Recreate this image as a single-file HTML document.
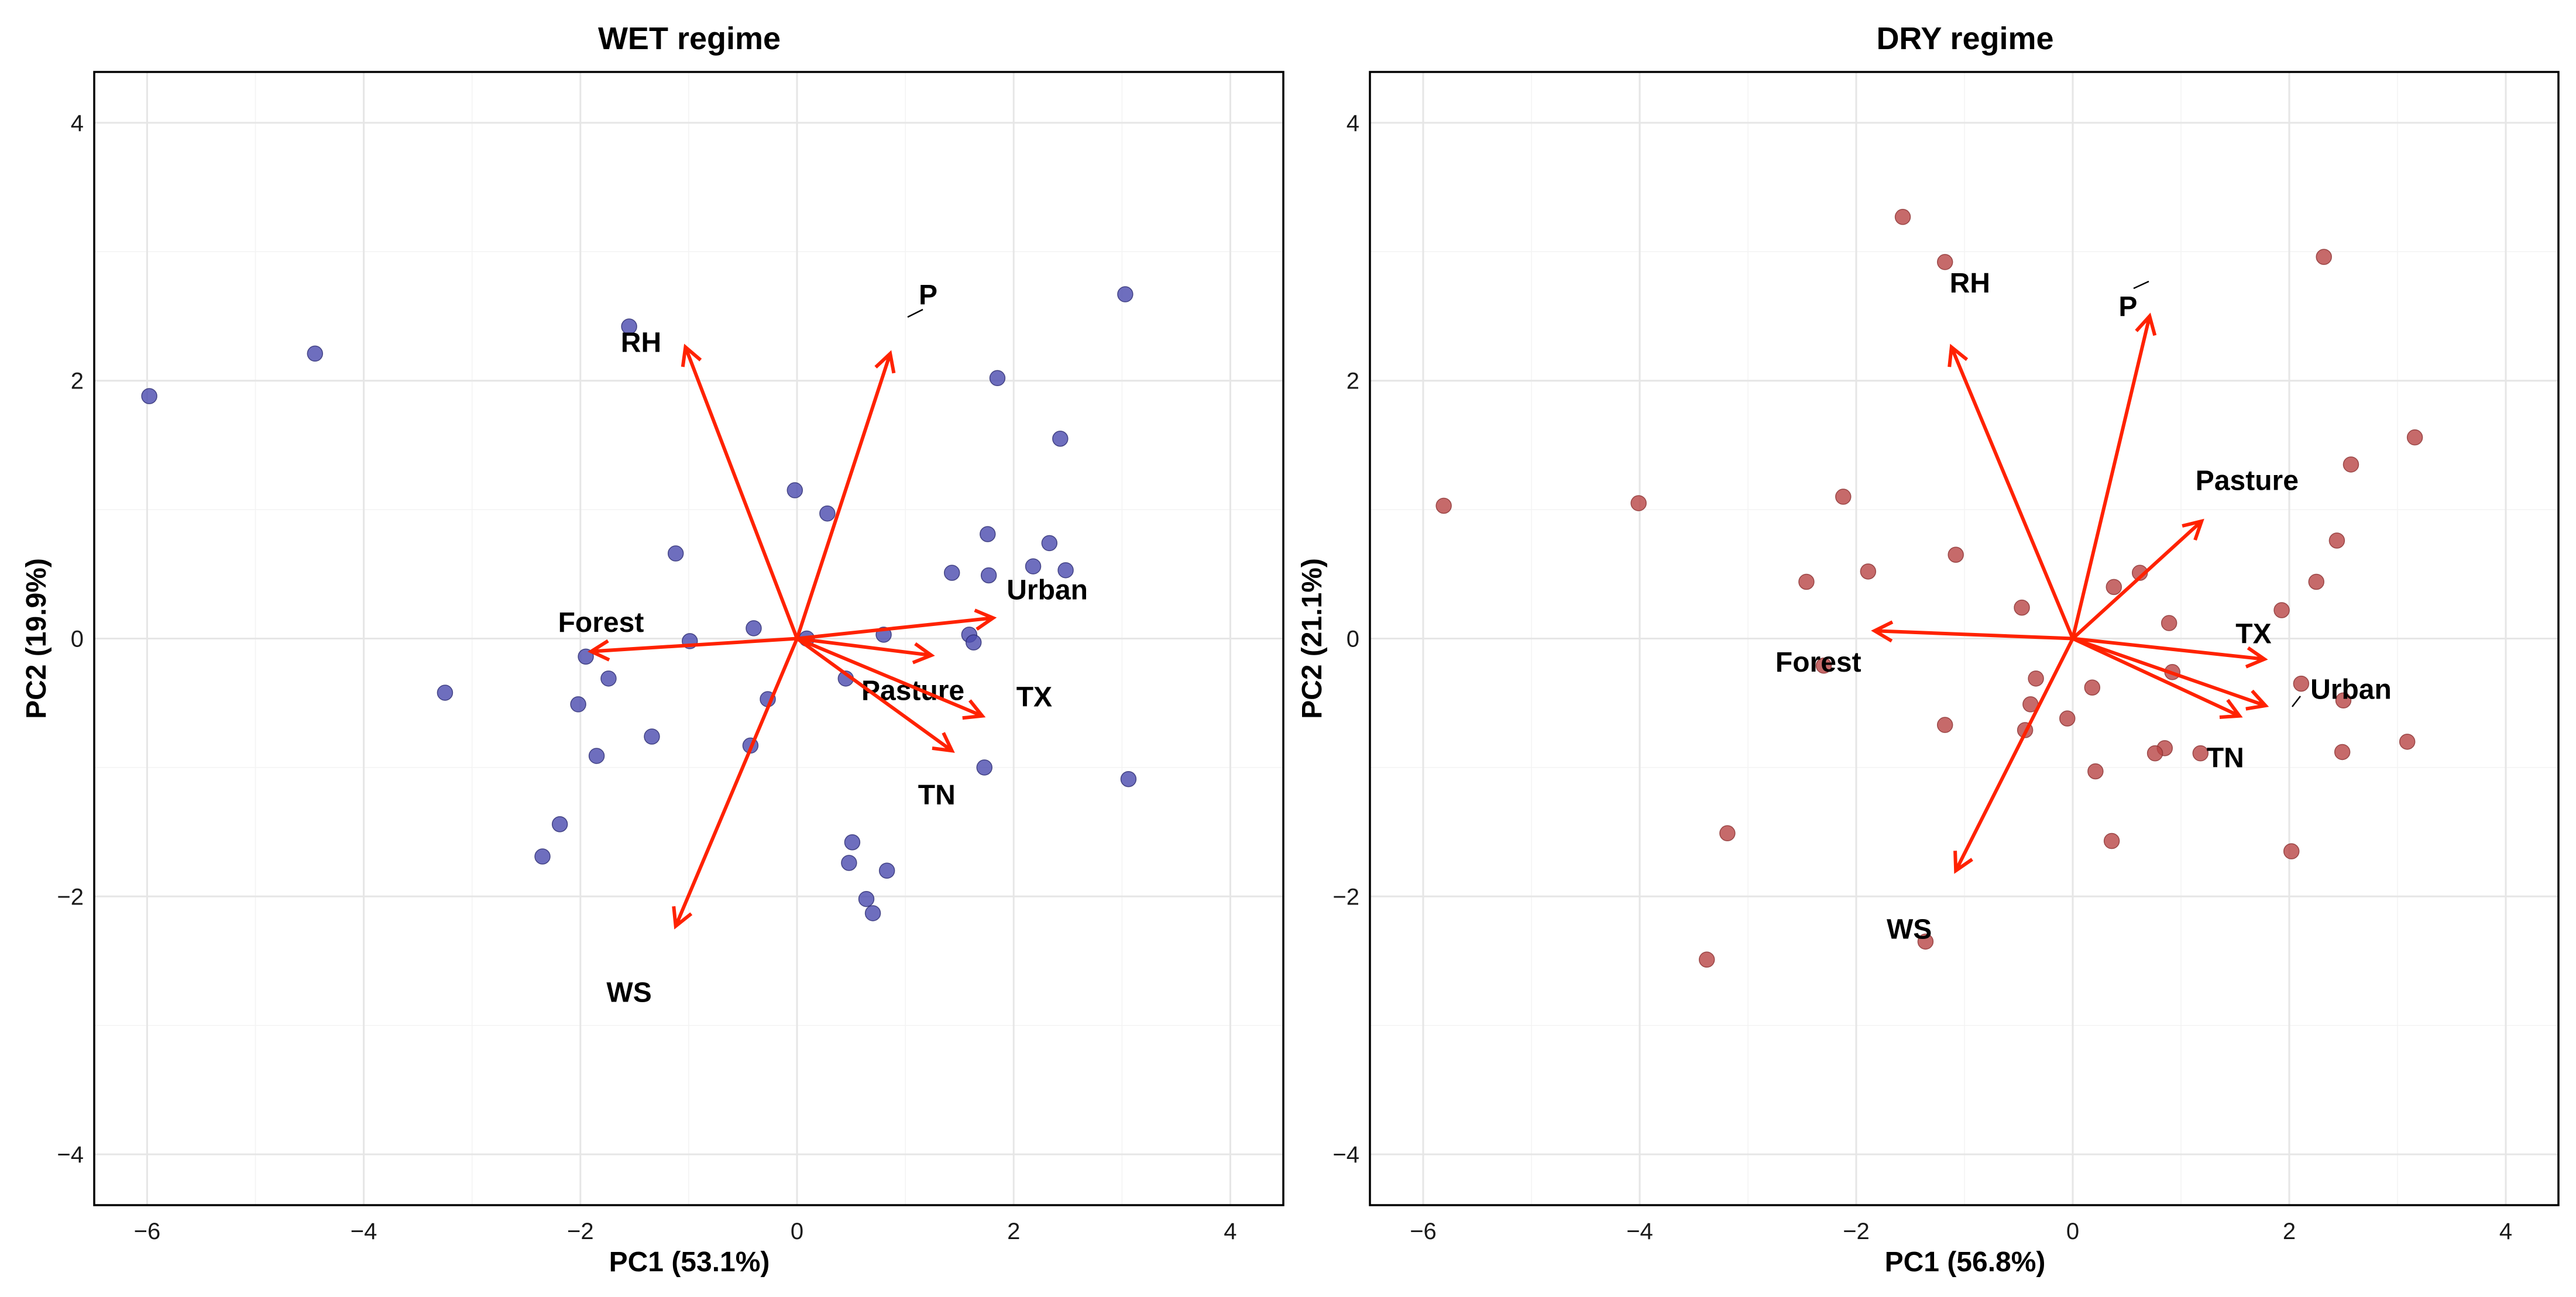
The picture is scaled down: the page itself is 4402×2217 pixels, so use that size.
<!DOCTYPE html>
<html><head><meta charset="utf-8">
<style>
html,body{margin:0;padding:0;background:#fff;}
svg{display:block;font-family:"Liberation Sans",Arial,sans-serif;}
</style></head>
<body>
<svg id="chart" width="4402" height="2217" viewBox="0 0 4402 2217" xmlns="http://www.w3.org/2000/svg"></svg>
<script>
// Shared ticks
const xTicks = [-6,-4,-2,0,2,4];
const yTicks = [-4,-2,0,2,4];
const xTickLabels = ["\u22126","\u22124","\u22122","0","2","4"];
const yTickLabels = ["\u22124","\u22122","0","2","4"];

// WET regime data
const wetX = [-5.98,-4.45,-3.25,-1.55,-1.12,-0.99,-1.95,-1.74,-2.02,-1.85,-1.34,-2.19,-2.35,-0.40,-0.27,-0.43,-0.02,0.28,0.09,0.45,0.80,0.51,0.48,0.83,0.64,0.70,1.43,1.76,1.77,1.59,1.63,1.73,1.85,2.43,2.33,2.18,2.48,3.03,3.06];
const wetY = [1.88,2.21,-0.42,2.42,0.66,-0.02,-0.14,-0.31,-0.51,-0.91,-0.76,-1.44,-1.69,0.08,-0.47,-0.83,1.15,0.97,0,-0.31,0.03,-1.58,-1.74,-1.80,-2.02,-2.13,0.51,0.81,0.49,0.03,-0.03,-1.00,2.02,1.55,0.74,0.56,0.53,2.67,-1.09];
const wetVars = ["RH","P","Forest","Urban","Pasture","TX","TN","WS"];
const wetArrowX = [-1.03,0.86,-1.90,1.81,1.24,1.71,1.43,-1.12];
const wetArrowY = [2.26,2.21,-0.10,0.16,-0.13,-0.60,-0.87,-2.23];
const wetLabelX = [-1.44,1.21,-1.81,2.31,1.07,2.19,1.29,-1.55];
const wetLabelY = [2.30,2.67,0.13,0.38,-0.40,-0.45,-1.21,-2.74];

// DRY regime data
const dryX = [-5.81,-4.01,-2.12,-2.46,-1.89,-2.30,-3.19,-3.38,-1.57,-1.18,-1.08,-1.18,-1.36,-0.47,-0.34,-0.39,-0.44,-0.05,0.18,0.21,0.36,0.38,0.62,0.89,0.92,0.85,0.76,1.18,1.93,2.11,2.25,2.44,2.57,2.50,2.49,2.32,3.16,3.09,2.02];
const dryY = [1.03,1.05,1.10,0.44,0.52,-0.21,-1.51,-2.49,3.27,2.92,0.65,-0.67,-2.35,0.24,-0.31,-0.51,-0.71,-0.62,-0.38,-1.03,-1.57,0.40,0.51,0.12,-0.26,-0.85,-0.89,-0.89,0.22,-0.35,0.44,0.76,1.35,-0.48,-0.88,2.96,1.56,-0.80,-1.65];
const dryVars = ["RH","P","Pasture","Forest","TX","Urban","TN","WS"];
const dryArrowX = [-1.12,0.71,1.19,-1.83,1.77,1.78,1.54,-1.08];
const dryArrowY = [2.26,2.50,0.91,0.06,-0.16,-0.52,-0.60,-1.80];
const dryLabelX = [-0.95,0.51,1.61,-2.35,1.67,2.57,1.41,-1.51];
const dryLabelY = [2.76,2.58,1.23,-0.18,0.04,-0.39,-0.92,-2.25];

const NS = "http://www.w3.org/2000/svg";
const svg = document.getElementById("chart");
function mk(tag, attrs, parent){
  const e = document.createElementNS(NS, tag);
  for (const k in attrs) e.setAttribute(k, attrs[k]);
  (parent||svg).appendChild(e);
  return e;
}

function panel(cfg){
  const g = mk("g", {});
  
  
  const sx = v => cfg.x0 + v*cfg.ux;
  const sy = v => cfg.y0 - v*cfg.uy;
  for (let v=-7; v<=5; v+=2){
    const px = sx(v);
    if (px>cfg.left && px<cfg.right){ const l=mk("line",{x1:px,x2:px,y1:cfg.top,y2:cfg.bottom,stroke:"#f3f3f3","stroke-width":1.5},g);
        }
  }
  for (let v=-5; v<=5; v+=2){
    const py = sy(v);
    if (py>cfg.top && py<cfg.bottom){ const l=mk("line",{x1:cfg.left,x2:cfg.right,y1:py,y2:py,stroke:"#f3f3f3","stroke-width":1.5},g);
        }
  }
  xTicks.forEach((v,i)=>{
    const l=mk("line",{x1:sx(v),x2:sx(v),y1:cfg.top,y2:cfg.bottom,stroke:"#e6e6e6","stroke-width":3},g);
     
    const t=mk("text",{x:sx(v),y:cfg.bottom+58,"font-size":40,"text-anchor":"middle",fill:"#1a1a1a"},g);
    t.textContent=xTickLabels[i];
     
  });
  yTicks.forEach((v,i)=>{
    const l=mk("line",{x1:cfg.left,x2:cfg.right,y1:sy(v),y2:sy(v),stroke:"#e6e6e6","stroke-width":3},g);
     
    const t=mk("text",{x:cfg.left-18,y:sy(v)+14,"font-size":40,"text-anchor":"end",fill:"#1a1a1a"},g);
    t.textContent=yTickLabels[i];
     
  });
  cfg.px.forEach((v,i)=>{
    const c=mk("circle",{cx:sx(v),cy:sy(cfg.py[i]),r:13,fill:cfg.fill,"fill-opacity":0.8,stroke:cfg.stroke,"stroke-width":1.5,"stroke-opacity":0.8},g);
     
  });
  cfg.ax.forEach((v,i)=>{
    const x1=sx(0), y1=sy(0), x2=sx(v), y2=sy(cfg.ay[i]);
    const ang=Math.atan2(y2-y1,x2-x1), L=34, a=0.5;
    const p1=[x2-L*Math.cos(ang-a), y2-L*Math.sin(ang-a)];
    const p2=[x2-L*Math.cos(ang+a), y2-L*Math.sin(ang+a)];
    const ar=mk("path",{d:`M${x1},${y1}L${x2},${y2}M${p1[0]},${p1[1]}L${x2},${y2}L${p2[0]},${p2[1]}`,stroke:"#ff2200","stroke-width":6,fill:"none","stroke-linejoin":"miter"},g);
     
    const t=mk("text",{x:sx(cfg.lx[i]),y:sy(cfg.ly[i])+17,"font-size":48,"font-weight":"bold","text-anchor":"middle",fill:"#000"},g);
    t.textContent=cfg.vars[i];
     
  });
  (cfg.segs||[]).forEach(s=>{
    const l=mk("line",{x1:s[0],y1:s[1],x2:s[2],y2:s[3],stroke:"#000","stroke-width":2.5},g);
     
  });
  const b=mk("rect",{x:cfg.left,y:cfg.top,width:cfg.right-cfg.left,height:cfg.bottom-cfg.top,fill:"none",stroke:"#000","stroke-width":3.5},g);
   
  const ti=mk("text",{x:cfg.tc,y:84,"font-size":54,"font-weight":"bold","text-anchor":"middle"},g);
  ti.textContent=cfg.title;
   
  const xt=mk("text",{x:cfg.tc,y:2173,"font-size":48,"font-weight":"bold","text-anchor":"middle"},g);
  xt.textContent=cfg.xlab;
   
  const yt=mk("text",{x:0,y:0,"font-size":48,"font-weight":"bold","text-anchor":"middle",transform:`translate(${cfg.ylx},${sy(0)}) rotate(-90)`},g);
  yt.textContent=cfg.ylab;
   
}

panel({name:"wet-regime-panel",left:161,right:2193,top:123,bottom:2060,x0:1362,ux:185.1,y0:1091.5,uy:220.4,
  px:wetX,py:wetY,ax:wetArrowX,ay:wetArrowY,lx:wetLabelX,ly:wetLabelY,vars:wetVars,
  fill:"#4a4aae",stroke:"#2a2a70",title:"WET regime",xlab:"PC1 (53.1%)",ylab:"PC2 (19.9%)",tc:1178,ylx:78,
  segs:[[1551,542,1577,529]]});
panel({name:"dry-regime-panel",left:2341,right:4372,top:123,bottom:2060,x0:3542,ux:185,y0:1091.5,uy:220.4,
  px:dryX,py:dryY,ax:dryArrowX,ay:dryArrowY,lx:dryLabelX,ly:dryLabelY,vars:dryVars,
  fill:"#b84545",stroke:"#8a3030",title:"DRY regime",xlab:"PC1 (56.8%)",ylab:"PC2 (21.1%)",tc:3358,ylx:2258,
  segs:[[3646,493,3672,481],[3917,1208,3931,1190]]});
</script>
</body></html>
